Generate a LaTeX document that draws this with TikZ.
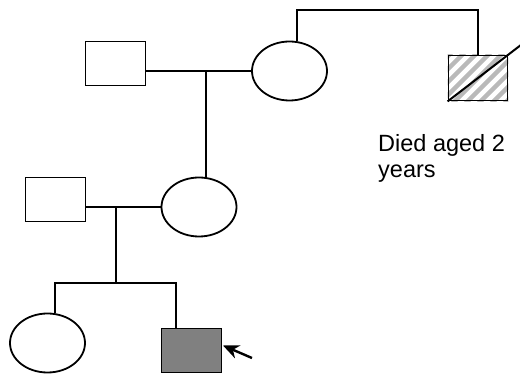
\documentclass[tikz,border=0pt]{standalone}
\usepackage{fontspec}
\setmainfont{Liberation Sans}
\usetikzlibrary{arrows.meta,calc,shapes.geometric}
\begin{document}
\begin{tikzpicture}[x=1pt,y=-1pt,
  male/.style={draw,line width=1.8pt,rectangle,minimum width=60pt,minimum height=44pt,inner sep=0pt},
  female/.style={draw,line width=1.8pt,ellipse,minimum width=75pt,minimum height=59pt,inner sep=0pt},
  link/.style={line width=2pt},
  note/.style={font=\fontsize{23.5}{28}\selectfont,align=left,inner sep=0pt}]
\useasboundingbox (0,0) rectangle (520,374);
% generation I
\node[male] (m1) at (115.5,63.5) {};
\node[female] (f1) at (289.5,71) {};
\node[male,minimum width=59pt,minimum height=45pt] (m2) at (478,78) {};
\begin{scope}
  \clip (m2.south west) rectangle (m2.north east);
  \foreach \k in {-78,-65,...,78}
    \draw[gray!55,line width=4.5pt] ($(m2.center)+(\k-40,40)$) -- ($(m2.center)+(\k+40,-40)$);
\end{scope}
\node[male,minimum width=59pt,minimum height=45pt] at (m2.center) {};
% generation II
\node[male] (m3) at (55.5,199.5) {};
\node[female] (f2) at (199,207) {};
% generation III
\node[female] (f3) at (47.5,343) {};
\node[male,fill=gray] (p) at (191.5,350.5) {};
% connectors
\coordinate (c1) at (206,71);
\coordinate (t1) at (297,10);
\coordinate (c2) at (116,207);
\coordinate (c3) at (116,283);
\coordinate (d1) at (55,283);
\coordinate (d2) at (176,283);
\coordinate (a0) at (252,358);
\coordinate (a1) at (223,345.5);
\draw[link] (f1.west) -- (f1.west -| m1.east);
\draw[line width=2.4pt] (c1) -- (c1 |- f2.north);
\draw[link] (t1 |- f1.north) -- (t1) -| (m2.north);
\draw[link] (m2.south west) -- ($(m2.south west)!1.22!(m2.north east)$);
\draw[link] (f2.west) -- (f2.west -| m3.east);
\draw[link] (c2) -- (c3);
\draw[link] (d1 |- f3.north) -- (d1) -- (d2) -- (d2 |- p.north);
\draw[line width=2.4pt,-{Stealth[length=16pt,width=14pt]}] (a0) -- (a1);
\node[note,anchor=base west] (txt) at (378,152) {Died aged 2};
\node[note,anchor=base west] (txt2) at (378,178) {years};
\end{tikzpicture}
\end{document}
